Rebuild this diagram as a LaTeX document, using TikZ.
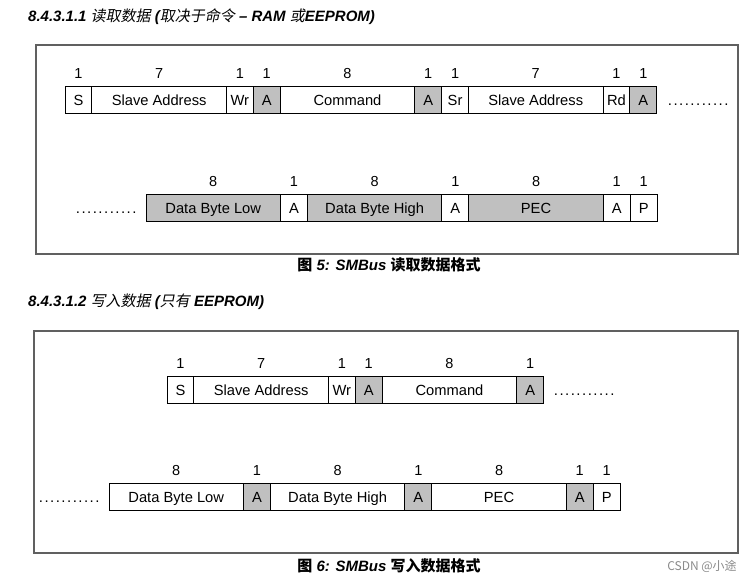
\documentclass[tikz,border=0pt]{standalone}
\usepackage{fontspec}
\setmainfont{Liberation Sans}
\newfontfamily\cjksl{Noto Sans CJK SC}[AutoFakeSlant=0.2]
\newfontfamily\cjk{Noto Sans CJK SC}
\usetikzlibrary{positioning}
\definecolor{cellgray}{HTML}{C0C0C0}
\definecolor{framegray}{HTML}{606060}
\definecolor{markgray}{HTML}{8A8A8A}
\newcommand{\dotrow}{\makebox[62pt][l]{\xleaders\hbox to 5.6pt{\hss.\hss}\hskip 62pt}}
\tikzset{
  cell/.style={draw=black, line width=0.9pt, minimum height=26.5pt, inner sep=0pt, outer sep=0pt, anchor=west, text height=10.5pt, text depth=0pt, font=\fontsize{14.7}{17}\selectfont},
  one/.style={cell, minimum width=26.9pt},
  eight/.style={cell, minimum width=134.5pt},
  grey/.style={fill=cellgray},
  num/.style={inner sep=0pt, anchor=south, yshift=8pt, font=\fontsize{14.5}{17}\selectfont},
  frame/.style={draw=framegray, line width=1.5pt},
  dotsnode/.style={inner sep=0pt, anchor=base west, font=\fontsize{15}{17}\selectfont},
  head/.style={anchor=west, inner sep=0pt, font=\fontsize{15}{17}\selectfont\bfseries\itshape},
  capt/.style={inner sep=0pt, font=\fontsize{15}{17}\selectfont\bfseries\itshape},
}
\begin{document}
\begin{tikzpicture}[x=1pt, y=-1pt]
\useasboundingbox (0,0) rectangle (752,582);
% ---------- section 1 ----------
\node[head] (h1) at (28,17) {8.4.3.1.1 {\cjksl\mdseries 读取数据} ({\cjksl\mdseries 取决于命令} – RAM {\cjksl\mdseries 或}EEPROM)};
\draw[frame] (36,45) rectangle (738,254);
% row 1
\node[one] (a1) at (65,100) {S};
\node[eight] (a2) at (a1.east) {Slave Address};
\node[one] (a3) at (a2.east) {Wr};
\node[one, grey] (a4) at (a3.east) {A};
\node[eight] (a5) at (a4.east) {Command};
\node[one, grey] (a6) at (a5.east) {A};
\node[one] (a7) at (a6.east) {Sr};
\node[eight] (a8) at (a7.east) {Slave Address};
\node[one] (a9) at (a8.east) {Rd};
\node[one, grey] (a10) at (a9.east) {A};
\foreach \n/\v in {a1/1,a2/7,a3/1,a4/1,a5/8,a6/1,a7/1,a8/7,a9/1,a10/1}
  \node[num] (n\n) at (\n.north) {\v};
\node[dotsnode] (ad) at (667,105.3) {\dotrow};
% row 2
\node[dotsnode] (bd) at (75,213.3) {\dotrow};
\node[eight, grey] (b1) at (146,208) {Data Byte Low};
\node[one] (b2) at (b1.east) {A};
\node[eight, grey] (b3) at (b2.east) {Data Byte High};
\node[one] (b4) at (b3.east) {A};
\node[eight, grey] (b5) at (b4.east) {PEC};
\node[one] (b6) at (b5.east) {A};
\node[one] (b7) at (b6.east) {P};
\foreach \n/\v in {b1/8,b2/1,b3/8,b4/1,b5/8,b6/1,b7/1}
  \node[num] (n\n) at (\n.north) {\v};
\node[capt] (c1) at (389,265) {{\cjksl 图} 5: SMBus {\cjksl 读取数据格式}};
% ---------- section 2 ----------
\node[head] (h2) at (28,302) {8.4.3.1.2 {\cjksl\mdseries 写入数据} ({\cjksl\mdseries 只有} EEPROM)};
\draw[frame] (34,331) rectangle (738,553);
% row 1
\node[one] (e1) at (167,390) {S};
\node[eight] (e2) at (e1.east) {Slave Address};
\node[one] (e3) at (e2.east) {Wr};
\node[one, grey] (e4) at (e3.east) {A};
\node[eight] (e5) at (e4.east) {Command};
\node[one, grey] (e6) at (e5.east) {A};
\foreach \n/\v in {e1/1,e2/7,e3/1,e4/1,e5/8,e6/1}
  \node[num] (n\n) at (\n.north) {\v};
\node[dotsnode] (ed) at (553,395.3) {\dotrow};
% row 2
\node[dotsnode] (fd) at (38,502.3) {\dotrow};
\node[eight] (f1) at (109,497) {Data Byte Low};
\node[one, grey] (f2) at (f1.east) {A};
\node[eight] (f3) at (f2.east) {Data Byte High};
\node[one, grey] (f4) at (f3.east) {A};
\node[eight] (f5) at (f4.east) {PEC};
\node[one, grey] (f6) at (f5.east) {A};
\node[one] (f7) at (f6.east) {P};
\foreach \n/\v in {f1/8,f2/1,f3/8,f4/1,f5/8,f6/1,f7/1}
  \node[num] (n\n) at (\n.north) {\v};
\node[capt] (c2) at (389,566) {{\cjksl 图} 6: SMBus {\cjksl 写入数据格式}};
\node[inner sep=0pt, text=markgray, font=\cjk\fontsize{12}{14}\selectfont] (wm) at (702,566) {CSDN @小途};
\end{tikzpicture}
\end{document}
